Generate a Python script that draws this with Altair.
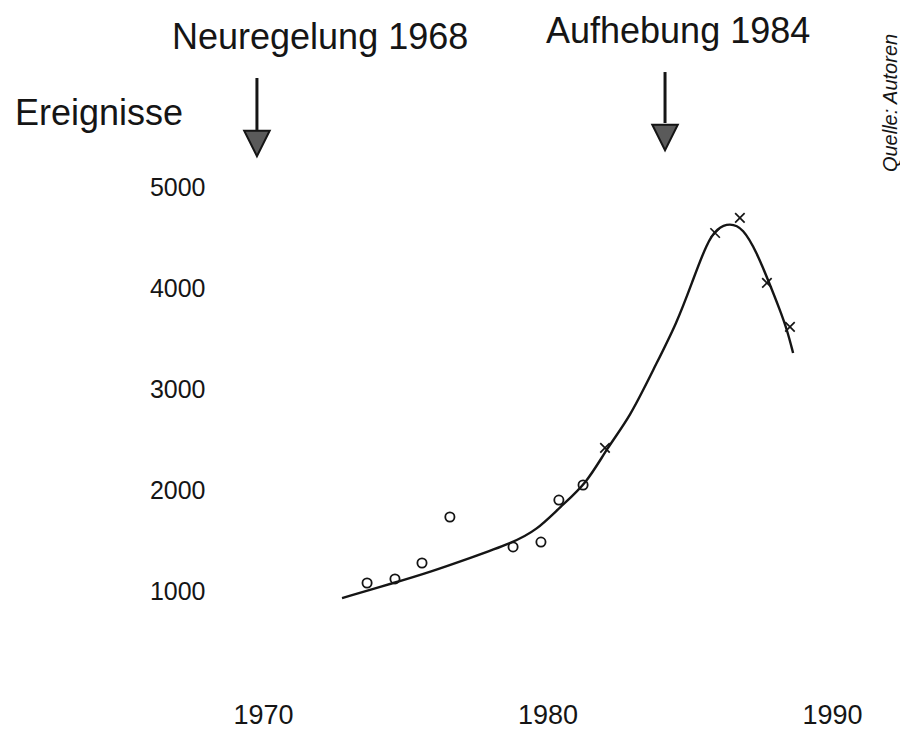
import altair as alt
import pandas as pd

# ---- data ----
curve_years = [1972.78, 1974.71, 1975.87, 1977.28, 1978.75, 1979.63, 1980.44, 1981.39,
               1982.09, 1982.90, 1983.71, 1984.55, 1985.11, 1985.60, 1985.96, 1986.41,
               1986.87, 1987.36, 1987.75, 1988.17, 1988.42, 1988.63]
curve_values = [931, 1090, 1189, 1328, 1476, 1605, 1833, 2071,
                2418, 2725, 3191, 3656, 4082, 4449, 4598, 4647,
                4598, 4350, 4082, 3785, 3587, 3359]

circle_years = [1973.66, 1974.64, 1975.59, 1976.57, 1978.79, 1979.77, 1980.40, 1981.25]
circle_values = [1080, 1120, 1278, 1734, 1437, 1486, 1902, 2051]

cross_years = [1982.02, 1985.89, 1986.76, 1987.71, 1988.52]
cross_values = [2418, 4548, 4697, 4053, 3617]

x_ticks = [1970, 1980, 1990]
y_ticks = [1000, 2000, 3000, 4000, 5000]

event_labels = ["Neuregelung 1968", "Aufhebung 1984"]
event_label_years = [1972.01, 1984.59]
event_label_values = [6371, 6431]
arrow_years = [1969.79, 1984.13]
arrow_top = [6084, 6143]
arrow_head_top = [5569, 5638]
arrow_head_center = [5435, 5494]

y_title = "Ereignisse"
source_note = "Quelle: Autoren"

FONT = "Liberation Sans"
INK = "#151515"

# ---- shared encodings ----
x_scale = alt.Scale(domain=[1968, 1992], nice=False, zero=False)
y_scale = alt.Scale(domain=[0, 6500], nice=False, zero=False)
x_axis = alt.Axis(values=x_ticks, format="d", title=None, domain=False, ticks=False,
                  grid=False, labelFont=FONT, labelFontSize=27, labelColor=INK,
                  labelPadding=10)
y_axis = alt.Axis(values=y_ticks, format="d", title=None, domain=False, ticks=False,
                  grid=False, labelFont=FONT, labelFontSize=25, labelColor=INK,
                  labelPadding=1)


def X(field):
    return alt.X(f"{field}:Q", scale=x_scale, axis=x_axis)


def Y(field):
    return alt.Y(f"{field}:Q", scale=y_scale, axis=y_axis)


curve_df = pd.DataFrame({"year": curve_years, "value": curve_values})
circle_df = pd.DataFrame({"year": circle_years, "value": circle_values})
cross_df = pd.DataFrame({"year": cross_years, "value": cross_values})
event_df = pd.DataFrame({
    "label": event_labels,
    "label_year": event_label_years,
    "label_value": event_label_values,
    "arrow_year": arrow_years,
    "top": arrow_top,
    "head_top": arrow_head_top,
    "head_center": arrow_head_center,
})

curve = alt.Chart(curve_df).mark_line(
    interpolate="basis", color=INK, strokeWidth=2.4
).encode(x=X("year"), y=Y("value"))

circles = alt.Chart(circle_df).mark_point(
    shape="circle", filled=False, color=INK, size=85, strokeWidth=1.8, opacity=1
).encode(x=X("year"), y=Y("value"))

crosses = alt.Chart(cross_df).mark_point(
    shape="M-1,-1L1,1M-1,1L1,-1", filled=False, color=INK, size=90, strokeWidth=1.7, opacity=1
).encode(x=X("year"), y=Y("value"))

shafts = alt.Chart(event_df).mark_rule(color=INK, strokeWidth=3).encode(
    x=X("arrow_year"), y=Y("top"), y2="head_top:Q"
)

heads = alt.Chart(event_df).mark_point(
    shape="M-1,-1L1,-1L0,1Z", filled=True, fill="#5a5a5a", stroke=INK,
    strokeWidth=2, size=650, opacity=1
).encode(x=X("arrow_year"), y=Y("head_center"))

event_text = alt.Chart(event_df).mark_text(
    font=FONT, fontSize=36, color=INK, align="center", baseline="alphabetic"
).encode(x=X("label_year"), y=Y("label_value"), text="label:N")

title_df = pd.DataFrame({"t": [y_title]})
y_title_text = alt.Chart(title_df).mark_text(
    font=FONT, fontSize=36, color=INK, align="left", baseline="alphabetic"
).encode(x=alt.value(-191), y=alt.value(89), text="t:N")

note_df = pd.DataFrame({"t": [source_note]})
note_text = alt.Chart(note_df).mark_text(
    font=FONT, fontSize=20, fontStyle="italic", color=INK, align="center",
    baseline="middle", angle=270
).encode(x=alt.value(685), y=alt.value(67), text="t:N")

chart = alt.layer(
    curve, circles, crosses, shafts, heads, event_text, y_title_text, note_text
).properties(
    width=683, height=656,
    padding={"left": 198, "top": 28, "right": 11, "bottom": 45},
    autosize=alt.AutoSizeParams(type="none"),
    background="white",
).configure_view(stroke=None)

chart.save("out.html", embed_options={"renderer": "svg", "actions": False})
